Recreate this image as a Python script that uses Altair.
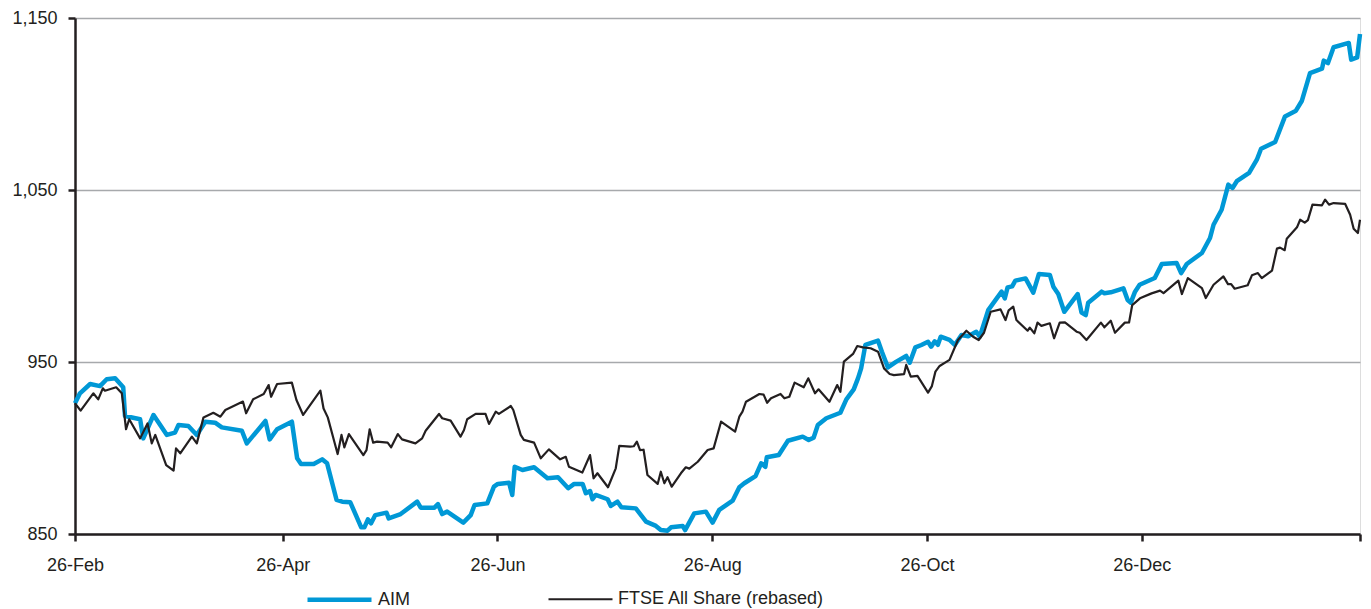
import altair as alt
import pandas as pd

START = "2005-02-26"

aim_days = [0, 1.4, 4.3, 7.1, 9.0, 11.4, 13.7, 14.2, 18.5, 19.4, 22.3, 26.1, 28.4, 29.4, 32.2, 34.6,
            37.0, 39.8, 41.7, 47.4, 48.8, 54.1, 55.3, 57.4, 61.6, 63.1, 64.2, 67.8, 70.2, 71.6, 74.3,
            75.9, 78.2, 81.3, 82.2, 83.2, 84.1, 85.3, 88.5, 89.1, 92.5, 97.2, 98.2, 102.1, 103.1,
            104.3, 105.7, 110.3, 112.4, 113.5, 117.1, 119.0, 120.1, 123.3, 124.2, 124.9, 127.1,
            130.4, 134.2, 137.2, 140.1, 141.8, 144.2, 145.1, 146.3, 147.0, 147.9, 151.3, 152.2,
            154.1, 155.2, 159.3, 162.2, 165.0, 166.4, 168.3, 169.3, 172.6, 173.3, 175.9, 179.2,
            181.1, 183.0, 186.8, 188.7, 190.1, 193.3, 194.9, 196.1, 196.5, 199.9, 202.5, 206.7,
            208.4, 209.8, 211.0, 213.4, 217.4, 219.1, 221.2, 222.4, 223.3, 224.5, 228.1, 229.2,
            230.9, 233.3, 236.1, 237.1, 238.7, 240.4, 242.3, 243.2, 244.2, 245.1, 245.9, 248.4,
            249.9, 251.8, 253.7, 256.0, 257.0, 259.4, 263.2, 264.1, 264.9, 266.2, 267.1, 270.0,
            270.7, 272.2, 273.8, 276.9, 277.9, 279.3, 281.0, 284.8, 285.9, 287.1, 287.8, 291.6,
            292.4, 294.2, 297.8, 299.0, 299.9, 301.1, 302.4, 306.7, 308.7, 312.9, 314.2, 315.8,
            320.1, 322.4, 323.4, 325.7, 327.6, 328.8, 330.0, 333.5, 335.7, 336.9, 340.9, 343.7,
            346.8, 348.5, 350.8, 354.2, 354.7, 355.9, 357.5, 361.8, 362.5, 364.2, 365.0]
aim_vals = [926, 931.8, 937.2, 936, 940, 940.5, 935.3, 918.6, 916.7, 905.6, 919.2, 907.6, 908.9,
            913.4, 912.8, 907.6, 915.3, 914.7, 912, 910, 902.7, 915.7, 905, 910.9, 915.3, 894,
            890.7, 890.7, 893.4, 891.1, 869.8, 868.8, 868.4, 853.9, 853.9, 858.5, 856.2, 861,
            862.4, 859.1, 861.6, 868.8, 865.3, 865.3, 867.4, 861.6, 863, 856.6, 861, 866.9, 867.8,
            877.5, 879.1, 879.8, 872.7, 889.1, 887.2, 888.8, 882.4, 883, 876.6, 879.1, 879.1,
            873.7, 875, 870.2, 872.7, 870.2, 866.3, 868.8, 865.5, 864.9, 857.2, 854.7, 852.3,
            851.9, 853.9, 854.7, 852.3, 862, 863, 856.6, 864, 869.4, 877.2, 879.5, 883.7, 891.1,
            889.1, 894.6, 895.9, 904.2, 906.6, 904.7, 906, 913.4, 917.3, 920.5, 928.3, 934.1,
            940.5, 946.3, 959.9, 962.4, 956, 946.9, 950.2, 953.5, 949.6, 958.5, 959.9, 961.8,
            958.9, 962, 960, 964.7, 962.8, 959.9, 965.7, 965, 967.6, 964.7, 980.2, 990.9, 987,
            993.4, 994, 997.3, 998.6, 996, 990.3, 1001.2, 1000.6, 993.8, 989.5, 979.2, 989.5,
            978.7, 977.3, 984.5, 990.9, 990, 990.5, 992.8, 986, 984.5, 990.9, 994.9, 998.8, 1007,
            1007.6, 1001.7, 1007, 1013.4, 1022.1, 1029.8, 1038.5, 1053.1, 1051.2, 1055.1, 1059.9,
            1067.6, 1074, 1077.9, 1092.8, 1096.1, 1101.9, 1118, 1120.5, 1125.2, 1123.8, 1133,
            1135.5, 1125.8, 1127.1, 1140.7]

ftse_days = [0, 1.6, 5.2, 6.6, 7.9, 8.5, 11.7, 13.3, 14.5, 15.4, 18.5, 20.6, 21.8, 22.8, 25.9, 28.0,
             28.7, 29.9, 33.2, 34.6, 36.5, 39.3, 41.3, 42.7, 47.7, 48.6, 50.6, 53.6, 55.0, 55.7,
             57.4, 61.6, 62.9, 64.8, 69.7, 70.6, 71.8, 74.6, 75.7, 76.5, 77.8, 81.9, 82.8, 83.7,
             84.7, 85.8, 88.8, 89.8, 91.7, 92.9, 96.7, 98.6, 99.6, 103.4, 104.3, 106.7, 109.5,
             110.5, 111.4, 113.8, 116.6, 117.6, 119.5, 120.4, 123.8, 124.5, 126.6, 127.5, 130.4,
             132.3, 134.6, 137.8, 139.4, 140.3, 144.1, 146.3, 147.3, 148.4, 151.4, 153.6, 154.6,
             157.7, 158.7, 159.6, 160.5, 161.5, 162.6, 165.5, 166.4, 167.4, 168.3, 169.5, 172.1,
             173.5, 174.5, 176.9, 179.7, 181.4, 183.5, 187.5, 188.7, 189.6, 190.6, 194.4, 195.6,
             196.6, 197.7, 200.4, 201.5, 202.9, 204.4, 207.0, 208.3, 210.2, 211.2, 214.3, 216.5,
             217.4, 218.4, 221.0, 222.2, 223.8, 226.0, 228.1, 229.8, 231.4, 232.6, 235.5, 236.1,
             237.4, 239.3, 242.3, 243.4, 244.4, 245.6, 248.4, 250.8, 253.2, 255.1, 256.7, 258.2,
             260.1, 262.9, 264.3, 265.2, 266.5, 267.4, 270.6, 271.2, 272.5, 273.4, 274.5, 276.9,
             278.1, 279.7, 281.2, 284.5, 285.4, 287.3, 291.4, 292.4, 294.2, 295.4, 298.2, 299.4,
             300.3, 302.5, 305.8, 308.2, 309.2, 313.4, 314.4, 316.1, 320.1, 321.2, 323.4, 326.2,
             327.5, 328.4, 329.4, 333.1, 334.3, 336.0, 337.1, 340.0, 341.4, 342.3, 343.6, 344.2,
             347.1, 348.0, 349.3, 350.2, 351.5, 354.2, 355.1, 356.2, 357.5, 360.8, 362.2, 363.2,
             364.4, 365.0]
ftse_vals = [926, 921.7, 931.8, 928.3, 934.7, 933.3, 935.3, 931.8, 910.9, 916.7, 905.6, 914.3, 902.7,
             907.6, 890.1, 886.8, 899.8, 896.9, 906.6, 902.7, 917.8, 920.5, 918.2, 922.1, 927,
             920.2, 928.3, 931.4, 936.6, 929.8, 937.2, 938, 927.9, 919.2, 933.3, 923, 917.8, 896.5,
             907.6, 900.4, 908.1, 895.9, 898.8, 910.9, 903.1, 903.7, 903.1, 900.4, 908.1, 905,
             902.7, 905.6, 910, 919.8, 917.3, 915.9, 906.6, 910.5, 916.7, 919.8, 919.8, 914, 921.1,
             919.8, 924.4, 922.1, 907.6, 904.7, 903.1, 894, 899.2, 893.4, 894.9, 889.1, 885.7,
             895.9, 882.4, 885.3, 877.2, 888.2, 901.2, 900.8, 901, 903.7, 898.8, 899, 884.3, 879.1,
             886.2, 879.5, 883, 877.5, 885.3, 888.8, 888, 892, 898.8, 899.8, 915.3, 909.5, 918.2,
             921.1, 926.9, 931.4, 931, 926.3, 928.9, 931.4, 928.9, 929.8, 938, 935.3, 940.5, 931.8,
             934.1, 926.9, 936.6, 932.7, 950.2, 954.7, 959.3, 958.5, 958, 956, 946.3, 943, 942.4,
             943, 948.3, 941.5, 941.9, 932.2, 936, 944.4, 947.7, 951.2, 962.8, 968.2, 964.7, 962.8,
             967, 979.2, 980.6, 974.4, 980, 982.2, 974.4, 968.2, 970, 966.7, 972.9, 971, 972.5,
             963.8, 972.9, 973, 967.6, 967, 962.8, 972.9, 970.2, 974, 967, 972.9, 973, 983.1, 987,
             989.9, 991.5, 990, 997.3, 989.5, 998.8, 993, 987.2, 994.9, 999.8, 995.3, 995.3, 992.6,
             994.6, 1000.4, 1001.7, 998.8, 1003.1, 1015.9, 1016.5, 1015, 1021.7, 1028.3, 1032.7,
             1031, 1032.5, 1041.5, 1041.1, 1044.4, 1041.5, 1042.4, 1041.9, 1035.6, 1027.5, 1025,
             1032.7]

series_names = ["AIM", "FTSE All Share (rebased)"]
series_colors = ["#0098D6", "#231F20"]
series_widths = [4.5, 2.2]
y_ticks = [850, 950, 1050, 1150]


def frame(days, vals, name):
    base = pd.Timestamp(START)
    dates = [(base + pd.to_timedelta(d, unit="D")).strftime("%Y-%m-%dT%H:%M:%S") for d in days]
    return pd.DataFrame({"date": dates, "value": vals, "series": name})


df_aim = frame(aim_days, aim_vals, series_names[0])
df_ftse = frame(ftse_days, ftse_vals, series_names[1])

FONT = "Liberation Sans"
TXT = "#231F20"
FS = 18

tick_dates = [alt.DateTime(year=2005, month=m, date=26) for m in ["Feb", "Apr", "Jun", "Aug", "Oct", "Dec"]]
tick_dates.append(alt.DateTime(year=2006, month="Feb", date=26))

x = alt.X(
    "date:T",
    scale=alt.Scale(domain=[alt.DateTime(year=2005, month="Feb", date=26),
                            alt.DateTime(year=2006, month="Feb", date=26)]),
    axis=alt.Axis(
        title=None, values=tick_dates, format="%d-%b", grid=False,
        labelExpr="year(datum.value) == 2006 ? '' : datum.label",
        labelFont=FONT, labelFontSize=FS, labelColor=TXT, labelPadding=15,
        tickSize=7, tickWidth=2.5, tickColor=TXT, domainColor=TXT, domainWidth=2.5,
        labelFlush=False, labelOverlap=False,
    ),
)
y = alt.Y(
    "value:Q",
    scale=alt.Scale(domain=[850, 1150], nice=False, zero=False),
    axis=alt.Axis(
        title=None, values=y_ticks, format=",.0f", grid=True, gridColor="#A7A9AC", gridWidth=1.5,
        labelFont=FONT, labelFontSize=FS, labelColor=TXT, labelPadding=11,
        tickSize=7, tickWidth=2.5, tickColor=TXT, domainColor=TXT, domainWidth=2.5,
    ),
)
color = alt.Color(
    "series:N",
    scale=alt.Scale(domain=series_names, range=series_colors),
    legend=alt.Legend(
        title=None, orient="none", direction="horizontal", legendX=230, legendY=547,
        symbolType="stroke", symbolSize=4096, labelFont=FONT, labelFontSize=FS,
        labelColor=TXT, labelOffset=4, columnPadding=133, padding=0, labelLimit=400,
    ),
)
sw = alt.StrokeWidth(
    "series:N",
    scale=alt.Scale(domain=series_names, range=series_widths),
    legend=None,
)

aim = alt.Chart(df_aim).mark_line(strokeJoin="round").encode(x=x, y=y, color=color, strokeWidth=sw)
ftse = alt.Chart(df_ftse).mark_line(strokeJoin="round").encode(x=x, y=y, color=color, strokeWidth=sw)

chart = alt.layer(aim, ftse).properties(
    width=1285, height=516,
    autosize=alt.AutoSizeParams(type="none"),
    padding={"left": 75, "top": 18, "right": 11, "bottom": 75},
).configure_view(stroke=None).configure(background="white")

chart.save("out.html", embed_options={"renderer": "svg", "actions": False})
